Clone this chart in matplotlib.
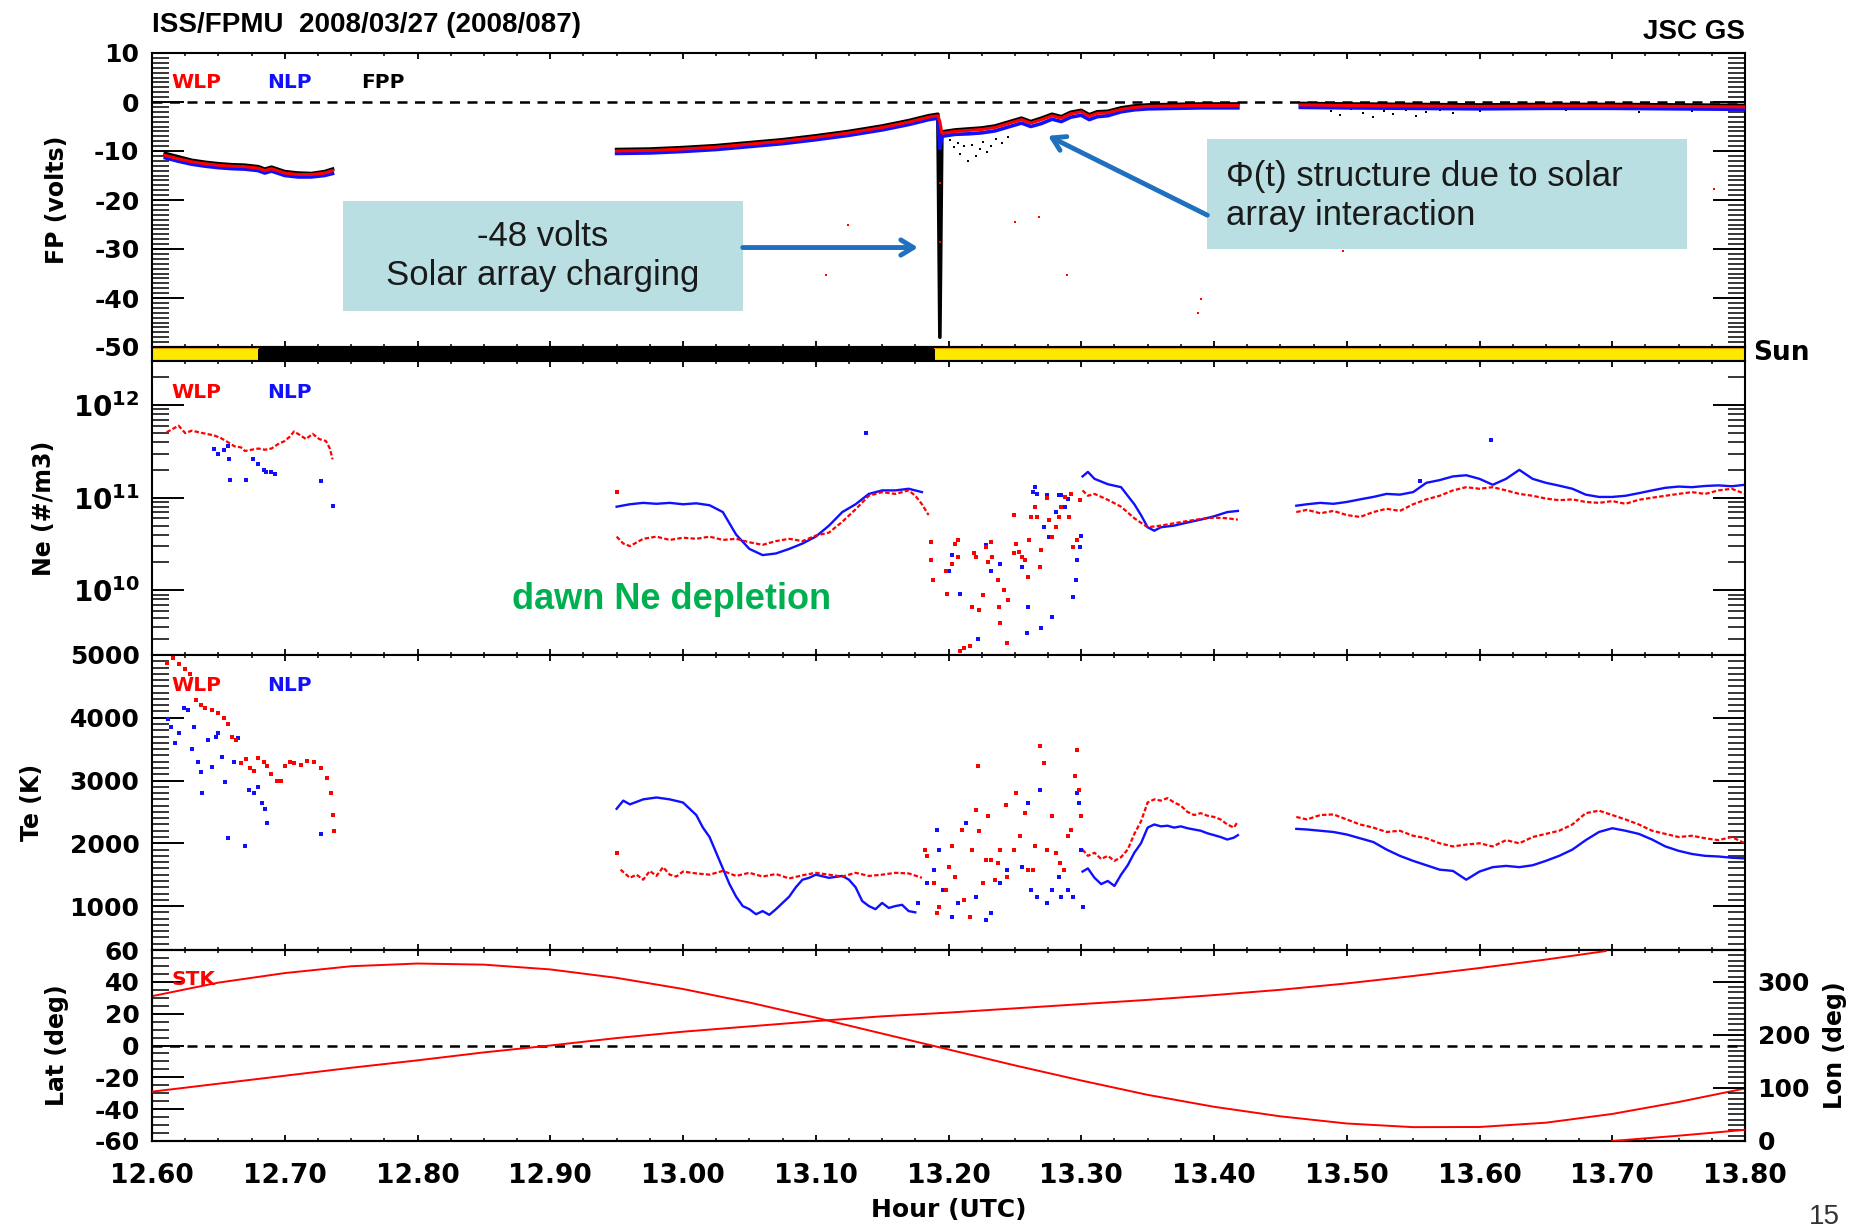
import numpy as np
import matplotlib.pyplot as plt
from matplotlib.patches import Rectangle
from matplotlib.ticker import MultipleLocator, LogLocator, FuncFormatter, NullFormatter

nan = np.nan

# ---------------------------------------------------------------- time axis
t_range = (12.60, 13.80)

# sunlight flag: day / eclipse / day
sun_edges = [12.60, 12.68, 13.19, 13.80]
sun_lit = [True, False, True]

# ---------------------------------------------------------------- FP (volts)
fp_t = [12.610, 12.620, 12.630, 12.640, 12.650, 12.660, 12.670, 12.680, 12.685, 12.690,
        12.700, 12.710, 12.720, 12.730, 12.736, nan,
        12.950, 12.975, 13.000, 13.025, 13.050, 13.075, 13.100, 13.125, 13.150, 13.170,
        13.185, 13.192, 13.1935,
        13.195, 13.205, 13.215, 13.225, 13.235, 13.245, 13.255, 13.262, 13.270, 13.278,
        13.285, 13.292, 13.300, 13.306, 13.312, 13.320, 13.330, 13.340, 13.350, 13.370,
        13.390, 13.418, nan,
        13.465, 13.500, 13.550, 13.600, 13.650, 13.700, 13.750, 13.800]
fp_wlp = [-10.9, -11.6, -12.2, -12.6, -12.9, -13.1, -13.2, -13.5, -14.0, -13.6,
          -14.5, -14.8, -14.8, -14.5, -14.0, nan,
          -10.0, -9.9, -9.6, -9.2, -8.6, -8.0, -7.2, -6.3, -5.2, -4.1,
          -3.1, -2.8, -4.0,
          -6.4, -6.0, -5.8, -5.6, -5.2, -4.4, -3.6, -4.3, -3.6, -2.8,
          -3.3, -2.4, -2.0, -2.9, -2.3, -2.2, -1.5, -1.1, -0.9, -0.8,
          -0.7, -0.7, nan,
          -0.6, -0.7, -0.8, -0.9, -0.8, -0.8, -0.9, -1.0]
fp_nlp = [-11.4, -12.1, -12.7, -13.1, -13.4, -13.6, -13.7, -14.0, -14.5, -14.1,
          -15.0, -15.3, -15.3, -15.0, -14.6, nan,
          -10.5, -10.4, -10.1, -9.7, -9.1, -8.5, -7.7, -6.8, -5.7, -4.6,
          -3.6, -3.3, -9.5,
          -7.0, -6.6, -6.5, -6.3, -5.9, -5.1, -4.3, -5.0, -4.4, -3.5,
          -4.0, -3.1, -2.7, -3.6, -3.0, -2.8, -2.0, -1.6, -1.4, -1.3,
          -1.2, -1.2, nan,
          -1.1, -1.2, -1.3, -1.4, -1.3, -1.3, -1.4, -1.5]
fp_fpp = [-10.5, -11.2, -11.9, -12.3, -12.6, -12.8, -12.9, -13.2, -13.7, -13.3,
          -14.2, -14.5, -14.6, -14.2, -13.7, nan,
          -9.7, -9.6, -9.3, -8.9, -8.3, -7.7, -6.9, -6.0, -4.9, -3.8,
          -2.8, -2.5, -48.0,
          -6.1, -5.7, -5.5, -5.3, -4.9, -4.1, -3.3, -4.0, -3.3, -2.5,
          -3.0, -2.1, -1.7, -2.6, -2.0, -1.9, -1.2, -0.8, -0.6, -0.5,
          -0.4, -0.4, nan,
          -0.3, -0.4, -0.5, -0.6, -0.5, -0.5, -0.6, -0.7]

# isolated FPP samples
fpp_dot_t = [13.201, 13.204, 13.207, 13.209, 13.212, 13.215, 13.218, 13.221, 13.224, 13.226,
             13.229, 13.232, 13.236, 13.240, 13.245, 13.488, 13.495, 13.503, 13.512, 13.520,
             13.528, 13.535, 13.545, 13.552, 13.560, 13.570, 13.580, 13.590, 13.600, 13.665,
             13.690, 13.720, 13.745, 13.760]
fpp_dot_v = [-7.8, -9.2, -8.4, -10.6, -9.0, -12.1, -8.8, -11.0, -9.6, -8.1,
             -10.2, -8.9, -7.6, -8.3, -7.1, -1.8, -2.6, -1.5, -2.2, -3.1,
             -1.9, -2.4, -1.6, -2.8, -2.0, -1.7, -2.3, -1.5, -1.9, -1.6,
             -1.4, -2.1, -1.5, -1.8]
# isolated WLP samples
wlp_dot_t = [13.108, 13.124, 13.1935, 13.1935, 13.250, 13.268, 13.289, 13.388, 13.390, 13.497, 13.777]
wlp_dot_v = [-35.4, -25.0, -16.5, -28.5, -24.4, -23.5, -35.4, -43.0, -40.2, -30.4, -17.7]

# ---------------------------------------------------------------- Ne (#/m3)
ne_wlp_t = [12.611, 12.620, 12.625, 12.630, 12.638, 12.647, 12.652, 12.657, 12.662, 12.667,
            12.670, 12.675, 12.680, 12.685, 12.690, 12.695, 12.700, 12.704, 12.707, 12.712,
            12.716, 12.721, 12.726, 12.731, 12.734, 12.736, nan,
            12.950, 12.955, 12.960, 12.970, 12.980, 12.990, 13.000, 13.010, 13.020, 13.030,
            13.040, 13.050, 13.060, 13.070, 13.080, 13.090, 13.100, 13.110, 13.120, 13.130,
            13.140, 13.150, 13.160, 13.170, 13.175, 13.180, 13.185, nan,
            13.301, 13.305, 13.310, 13.320, 13.330, 13.340, 13.350, 13.360, 13.370, 13.380,
            13.390, 13.400, 13.410, 13.418, nan,
            13.462, 13.470, 13.480, 13.490, 13.500, 13.510, 13.520, 13.530, 13.540, 13.550,
            13.560, 13.570, 13.580, 13.590, 13.600, 13.610, 13.620, 13.630, 13.640, 13.650,
            13.660, 13.670, 13.680, 13.690, 13.700, 13.710, 13.720, 13.730, 13.740, 13.750,
            13.760, 13.770, 13.780, 13.790, 13.800]
ne_wlp = [5.1e11, 6.0e11, 5.0e11, 5.3e11, 5.0e11, 4.7e11, 4.4e11, 4.0e11, 3.6e11, 3.5e11,
          3.2e11, 3.3e11, 3.4e11, 3.3e11, 3.4e11, 3.8e11, 4.1e11, 4.6e11, 5.2e11, 4.7e11,
          4.3e11, 4.9e11, 4.3e11, 4.1e11, 3.4e11, 2.6e11, nan,
          3.8e10, 3.2e10, 3.0e10, 3.6e10, 3.8e10, 3.5e10, 3.7e10, 3.6e10, 3.8e10, 3.5e10,
          3.6e10, 3.3e10, 3.1e10, 3.4e10, 3.6e10, 3.4e10, 3.9e10, 4.2e10, 5.5e10, 7.5e10,
          1.05e11, 1.15e11, 1.1e11, 1.2e11, 1.05e11, 8.5e10, 6.5e10, nan,
          1.2e11, 1.05e11, 1.1e11, 9.5e10, 8.0e10, 6.0e10, 4.8e10, 5.0e10, 5.3e10, 5.6e10,
          5.9e10, 6.1e10, 6.0e10, 5.8e10, nan,
          7.0e10, 7.4e10, 6.8e10, 7.2e10, 6.5e10, 6.2e10, 7.0e10, 7.6e10, 7.2e10, 8.5e10,
          9.6e10, 1.05e11, 1.2e11, 1.3e11, 1.25e11, 1.3e11, 1.2e11, 1.1e11, 1.05e11, 9.8e10,
          9.4e10, 9.6e10, 9.0e10, 8.8e10, 9.2e10, 8.6e10, 9.5e10, 1.0e11, 1.05e11, 1.1e11,
          1.15e11, 1.1e11, 1.2e11, 1.25e11, 1.1e11]

ne_nlp_t = [12.950, 12.960, 12.970, 12.980, 12.990, 13.000, 13.010, 13.020, 13.030, 13.040,
            13.050, 13.060, 13.070, 13.080, 13.090, 13.100, 13.110, 13.120, 13.130, 13.140,
            13.150, 13.160, 13.170, 13.180, nan,
            13.301, 13.305, 13.310, 13.320, 13.330, 13.335, 13.340, 13.345, 13.350, 13.355,
            13.360, 13.370, 13.380, 13.390, 13.400, 13.410, 13.418, nan,
            13.462, 13.470, 13.480, 13.490, 13.500, 13.510, 13.520, 13.530, 13.540, 13.550,
            13.560, 13.570, 13.580, 13.590, 13.600, 13.610, 13.620, 13.630, 13.640, 13.650,
            13.660, 13.670, 13.680, 13.690, 13.700, 13.710, 13.720, 13.730, 13.740, 13.750,
            13.760, 13.770, 13.780, 13.790, 13.800]
ne_nlp = [8.0e10, 8.5e10, 8.8e10, 8.6e10, 8.8e10, 8.5e10, 8.7e10, 8.3e10, 7.0e10, 4.0e10,
          2.8e10, 2.4e10, 2.5e10, 2.8e10, 3.2e10, 3.8e10, 5.0e10, 7.0e10, 8.5e10, 1.1e11,
          1.2e11, 1.2e11, 1.25e11, 1.15e11, nan,
          1.7e11, 1.9e11, 1.6e11, 1.4e11, 1.3e11, 1.05e11, 8.5e10, 6.5e10, 4.8e10, 4.4e10,
          4.8e10, 5.0e10, 5.4e10, 5.8e10, 6.3e10, 7.0e10, 7.2e10, nan,
          8.2e10, 8.5e10, 8.8e10, 8.6e10, 9.0e10, 9.6e10, 1.02e11, 1.1e11, 1.08e11, 1.15e11,
          1.45e11, 1.55e11, 1.7e11, 1.75e11, 1.6e11, 1.38e11, 1.6e11, 2.0e11, 1.6e11, 1.45e11,
          1.35e11, 1.25e11, 1.08e11, 1.02e11, 1.02e11, 1.05e11, 1.12e11, 1.2e11, 1.28e11, 1.32e11,
          1.3e11, 1.34e11, 1.36e11, 1.33e11, 1.38e11]

# scattered samples (start of pass and dawn depletion)
ne_wlp_dot_t = [12.950, 13.187, 13.187, 13.188, 13.198, 13.199, 13.203, 13.205, 13.207, 13.207,
                13.209, 13.212, 13.216, 13.218, 13.219, 13.221, 13.223, 13.226, 13.228, 13.230,
                13.232, 13.233, 13.237, 13.238, 13.239, 13.242, 13.244, 13.245, 13.249, 13.249,
                13.251, 13.253, 13.255, 13.258, 13.260, 13.261, 13.262, 13.265, 13.267, 13.269,
                13.270, 13.274, 13.276, 13.278, 13.281, 13.283, 13.285, 13.288, 13.291, 13.292,
                13.294, 13.297, 13.299]
ne_wlp_dot_v = [1.15e11, 3.3e10, 2.1e10, 1.3e10, 1.6e10, 9.2e9, 1.9e10, 3.2e10, 3.5e10, 2.3e10,
                2.2e9, 2.4e9, 2.5e9, 6.6e9, 2.5e10, 2.3e10, 6.1e9, 8.8e9, 2.9e10, 2.0e10,
                3.3e10, 2.3e10, 1.3e10, 6.6e9, 4.4e9, 1.0e10, 2.7e9, 7.8e9, 6.5e10, 2.5e10,
                3.2e10, 2.6e10, 2.3e10, 2.1e10, 1.4e10, 3.5e10, 6.2e10, 8.0e10, 6.2e10, 1.8e10,
                2.7e10, 1.0e11, 5.7e10, 3.8e10, 4.8e10, 6.2e10, 8.0e10, 1.02e11, 6.2e10, 1.11e11,
                2.9e10, 3.5e10, 9.4e10]
ne_nlp_dot_t = [12.647, 12.650, 12.654, 12.657, 12.658, 12.659, 12.671, 12.676, 12.680, 12.684,
                12.686, 12.690, 12.693, 12.727, 12.736, 13.138,
                13.200, 13.203, 13.209, 13.222, 13.228, 13.232, 13.239, 13.255, 13.259, 13.260,
                13.264, 13.265, 13.267, 13.270, 13.272, 13.274, 13.276, 13.278, 13.281, 13.283,
                13.285, 13.288, 13.290, 13.294, 13.296, 13.297, 13.299, 13.300, 13.555, 13.609]
ne_nlp_dot_v = [3.4e11, 3.0e11, 3.3e11, 3.6e11, 2.6e11, 1.55e11, 1.55e11, 2.6e11, 2.3e11, 2.0e11,
                1.9e11, 1.9e11, 1.8e11, 1.5e11, 8.1e10, 5.0e11,
                1.6e10, 2.4e10, 9.2e9, 3.0e9, 3.1e10, 1.6e10, 1.9e10, 1.8e10, 3.5e9, 6.6e9,
                1.16e11, 1.31e11, 1.11e11, 3.9e9, 4.8e10, 1.06e11, 3.8e10, 5.2e9, 7.0e10, 1.06e11,
                1.06e11, 8.0e10, 9.8e10, 8.5e9, 1.3e10, 2.1e10, 2.9e10, 3.9e10, 1.5e11, 4.2e11]

# ---------------------------------------------------------------- Te (K)
te_wlp_t = [12.953, 12.960, 12.965, 12.970, 12.975, 12.980, 12.985, 12.990, 12.995, 13.000,
            13.010, 13.020, 13.030, 13.040, 13.050, 13.060, 13.070, 13.080, 13.090, 13.100,
            13.110, 13.120, 13.130, 13.140, 13.150, 13.160, 13.170, 13.180, nan,
            13.301, 13.305, 13.310, 13.315, 13.320, 13.325, 13.330, 13.335, 13.340, 13.345,
            13.350, 13.355, 13.360, 13.365, 13.370, 13.375, 13.380, 13.385, 13.390, 13.395,
            13.400, 13.405, 13.410, 13.415, 13.418, nan,
            13.462, 13.470, 13.480, 13.490, 13.500, 13.510, 13.520, 13.530, 13.540, 13.550,
            13.560, 13.570, 13.580, 13.590, 13.600, 13.610, 13.620, 13.630, 13.640, 13.650,
            13.660, 13.670, 13.680, 13.690, 13.700, 13.710, 13.720, 13.730, 13.740, 13.750,
            13.760, 13.770, 13.780, 13.790, 13.800]
te_wlp = [1580, 1450, 1500, 1420, 1560, 1480, 1620, 1500, 1470, 1550,
          1520, 1500, 1560, 1480, 1530, 1470, 1510, 1440, 1490, 1530,
          1500, 1470, 1530, 1480, 1500, 1530, 1520, 1450, nan,
          1900, 1800, 1850, 1750, 1800, 1720, 1780, 1900, 2150, 2350,
          2650, 2700, 2680, 2720, 2650, 2600, 2500, 2450, 2480, 2440,
          2420, 2380, 2300, 2250, 2350, nan,
          2420, 2380, 2450, 2460, 2380, 2300, 2250, 2180, 2200, 2120,
          2080, 2000, 1950, 1980, 2000, 1950, 2050, 2000, 2100, 2150,
          2200, 2300, 2480, 2520, 2450, 2380, 2300, 2200, 2150, 2100,
          2120, 2080, 2050, 2100, 2000]

te_nlp_t = [12.950, 12.955, 12.960, 12.970, 12.980, 12.990, 13.000, 13.005, 13.010, 13.015,
            13.020, 13.025, 13.030, 13.035, 13.040, 13.045, 13.050, 13.055, 13.060, 13.065,
            13.070, 13.075, 13.080, 13.085, 13.090, 13.095, 13.100, 13.110, 13.120, 13.125,
            13.130, 13.135, 13.140, 13.145, 13.150, 13.155, 13.160, 13.165, 13.170, 13.175, nan,
            13.301, 13.305, 13.310, 13.315, 13.320, 13.325, 13.330, 13.335, 13.340, 13.345,
            13.350, 13.355, 13.360, 13.365, 13.370, 13.375, 13.380, 13.385, 13.390, 13.395,
            13.400, 13.405, 13.410, 13.415, 13.418, nan,
            13.462, 13.470, 13.480, 13.490, 13.500, 13.510, 13.520, 13.530, 13.540, 13.550,
            13.560, 13.570, 13.580, 13.590, 13.600, 13.610, 13.620, 13.630, 13.640, 13.650,
            13.660, 13.670, 13.680, 13.690, 13.700, 13.710, 13.720, 13.730, 13.740, 13.750,
            13.760, 13.770, 13.780, 13.790, 13.800]
te_nlp = [2550, 2680, 2620, 2700, 2730, 2700, 2650, 2550, 2450, 2250,
          2100, 1850, 1600, 1350, 1150, 1000, 950, 870, 920, 860,
          950, 1050, 1150, 1300, 1420, 1450, 1500, 1450, 1480, 1420,
          1300, 1080, 1000, 950, 1050, 970, 1000, 1020, 920, 900, nan,
          1550, 1600, 1450, 1350, 1400, 1320, 1500, 1650, 1850, 2000,
          2250, 2300, 2270, 2280, 2250, 2270, 2240, 2220, 2200, 2160,
          2130, 2100, 2060, 2090, 2130, nan,
          2230, 2220, 2200, 2180, 2140, 2080, 2020, 1900, 1800, 1720,
          1650, 1580, 1560, 1420, 1550, 1620, 1640, 1620, 1650, 1720,
          1800, 1900, 2050, 2180, 2240, 2200, 2150, 2060, 1950, 1880,
          1830, 1800, 1790, 1770, 1760]

te_wlp_dot_t = [12.611, 12.616, 12.620, 12.625, 12.629, 12.633, 12.637, 12.640, 12.645, 12.650,
                12.654, 12.657, 12.660, 12.663, 12.667, 12.671, 12.674, 12.677, 12.680, 12.684,
                12.687, 12.690, 12.694, 12.697, 12.700, 12.704, 12.707, 12.712, 12.717, 12.722,
                12.727, 12.732, 12.735, 12.736, 12.737, 12.950,
                13.182, 13.184, 13.189, 13.191, 13.193, 13.198, 13.200, 13.203, 13.205, 13.210,
                13.212, 13.216, 13.218, 13.221, 13.222, 13.223, 13.226, 13.228, 13.230, 13.232,
                13.235, 13.237, 13.239, 13.243, 13.244, 13.249, 13.251, 13.254, 13.258, 13.260,
                13.264, 13.265, 13.269, 13.272, 13.274, 13.278, 13.281, 13.284, 13.287, 13.290,
                13.292, 13.295, 13.297, 13.298, 13.300]
te_wlp_dot_v = [4880, 4950, 4850, 4770, 4700, 4290, 4200, 4160, 4120, 4080,
                4000, 3900, 3700, 3650, 3280, 3350, 3200, 3150, 3360, 3290,
                3230, 3100, 2990, 3000, 3230, 3300, 3280, 3250, 3310, 3300,
                3200, 3040, 2800, 2450, 2200, 1850,
                1897, 1790, 1364, 885, 992, 1258, 1630, 1950, 1471, 2216,
                1098, 832, 1897, 2535, 3227, 2190, 1364, 1737, 2429, 1737,
                1418, 1684, 1897, 2615, 1471, 1897, 2802, 2110, 2482, 1577,
                1577, 1950, 3547, 3281, 1897, 2429, 1843, 1684, 1577, 2110,
                2216, 3068, 3494, 2855, 2429]
te_nlp_dot_t = [12.612, 12.614, 12.617, 12.620, 12.624, 12.627, 12.630, 12.632, 12.635, 12.637,
                12.638, 12.642, 12.645, 12.648, 12.650, 12.653, 12.655, 12.657, 12.660, 12.662,
                12.665, 12.670, 12.673, 12.677, 12.680, 12.683, 12.685, 12.687, 12.690, 12.727,
                13.177, 13.184, 13.189, 13.191, 13.193, 13.196, 13.203, 13.207, 13.213, 13.221,
                13.228, 13.232, 13.239, 13.244, 13.255, 13.260, 13.262, 13.267, 13.269, 13.274,
                13.278, 13.283, 13.285, 13.290, 13.294, 13.297, 13.298, 13.300, 13.301]
te_nlp_dot_v = [3980, 3850, 3600, 3750, 4150, 4130, 3500, 3860, 3300, 3130,
                2800, 3650, 3220, 3700, 3750, 3380, 2980, 2080, 3690, 3300,
                3680, 1950, 2850, 2800, 2900, 2650, 2550, 2320, 3100, 2150,
                1045, 1364, 1577, 2216, 1897, 1258, 832, 1045, 2323, 1151,
                779, 885, 1364, 1577, 1630, 2642, 1258, 1151, 2855, 1045,
                1258, 1471, 1151, 1258, 1151, 2802, 2642, 1897, 992]

# ---------------------------------------------------------------- orbit
lat_t = [12.60, 12.65, 12.70, 12.75, 12.80, 12.85, 12.90, 12.95, 13.00, 13.05,
         13.10, 13.15, 13.20, 13.25, 13.30, 13.35, 13.40, 13.45, 13.50, 13.55,
         13.60, 13.65, 13.70, 13.75, 13.80]
lat_deg = [31.0, 39.5, 45.5, 49.8, 51.5, 50.8, 47.8, 42.5, 35.5, 27.0,
           17.5, 7.5, -2.5, -12.5, -22.0, -31.0, -38.5, -44.5, -49.0, -51.3,
           -51.2, -48.5, -43.0, -35.5, -27.0]
lon_t = [12.60, 12.65, 12.70, 12.75, 12.80, 12.85, 12.90, 12.95, 13.00, 13.05,
         13.10, 13.15, 13.20, 13.25, 13.30, 13.35, 13.40, 13.45, 13.50, 13.55,
         13.60, 13.65, 13.695, nan, 13.70, 13.75, 13.80]
lon_deg = [93, 108, 123, 138, 152, 167, 180, 194, 206, 216,
           226, 235, 242, 250, 258, 266, 275, 285, 297, 311,
           326, 342, 358, nan, 0, 10, 21]

# ---------------------------------------------------------------- figure
plt.rcParams['font.family'] = 'DejaVu Sans'
plt.rcParams['font.weight'] = 'bold'
plt.rcParams['axes.labelweight'] = 'bold'
plt.rcParams['axes.unicode_minus'] = False
plt.rcParams['axes.linewidth'] = 1.5

W, H = 1856, 1228
fig = plt.figure(figsize=(W / 100, H / 100), dpi=100)


def rect(top, bottom, left=152, right=1745):
    return [left / W, 1 - bottom / H, (right - left) / W, (bottom - top) / H]


ax_fp = fig.add_axes(rect(53, 347))
ax_sun = fig.add_axes(rect(347, 361))
ax_ne = fig.add_axes(rect(361, 655))
ax_te = fig.add_axes(rect(655, 950))
ax_lat = fig.add_axes(rect(950, 1141))
ax_lon = ax_lat.twinx()

RED, BLUE = '#FF0000', '#1010FF'


def style(ax, right=True):
    ax.set_xlim(*t_range)
    ax.xaxis.set_major_locator(MultipleLocator(0.1))
    ax.xaxis.set_minor_locator(MultipleLocator(0.025))
    ax.tick_params(axis='x', which='major', direction='in', top=True, bottom=True,
                   length=4.5, width=1.3, labelbottom=False)
    ax.tick_params(axis='x', which='minor', direction='in', top=True, bottom=True,
                   length=2.5, width=1.1)
    ax.tick_params(axis='y', which='major', direction='in', left=True, right=right,
                   length=23, width=1.4, labelsize=18, pad=9)
    ax.tick_params(axis='y', which='minor', direction='in', left=True, right=right,
                   length=12, width=1.1)


for ax in (ax_fp, ax_ne, ax_te, ax_lat):
    style(ax)
style(ax_lat, right=False)

# --- FP panel
ax_fp.set_ylim(-50, 10)
ax_fp.yaxis.set_major_locator(MultipleLocator(10))
ax_fp.yaxis.set_minor_locator(MultipleLocator(1))
ax_fp.axhline(0, color='k', lw=1.8, ls=(0, (4, 3)), zorder=1)
ax_fp.plot(fp_t, fp_fpp, color='k', lw=2.6, zorder=2)
ax_fp.plot(fp_t, fp_nlp, color=BLUE, lw=2.6, zorder=3)
ax_fp.plot(fp_t, fp_wlp, color=RED, lw=2.2, zorder=4)
ax_fp.plot(fpp_dot_t, fpp_dot_v, 's', color='k', ms=1.8, mew=0)
ax_fp.plot(wlp_dot_t, wlp_dot_v, 's', color=RED, ms=2.0, mew=0)
ax_fp.set_ylabel('FP (volts)', fontsize=17)
ax_fp.yaxis.set_label_coords(-0.052, 0.5)

# annotation boxes
ax_fp.add_patch(Rectangle((0.120, 0.123), 0.251, 0.375, transform=ax_fp.transAxes,
                          facecolor='#B9DFE2', edgecolor='none', zorder=5))
ax_fp.text(0.2455, 0.31, '-48 volts\nSolar array charging', transform=ax_fp.transAxes,
           ha='center', va='center', fontsize=25, fontweight='normal', linespacing=1.25,
           family='Liberation Sans', color='#1a1a1a', zorder=6)
ax_fp.add_patch(Rectangle((0.6623, 0.3345), 0.3013, 0.372, transform=ax_fp.transAxes,
                          facecolor='#B9DFE2', edgecolor='none', zorder=5))
ax_fp.text(0.674, 0.514, 'Φ(t) structure due to solar\narray interaction', transform=ax_fp.transAxes,
           ha='left', va='center', fontsize=25, fontweight='normal', linespacing=1.25,
           family='Liberation Sans', color='#1a1a1a', zorder=6)
arrow = dict(arrowstyle='->,head_length=0.9,head_width=0.55', lw=3.5, color='#1F70BF',
             shrinkA=0, shrinkB=0)
ax_fp.annotate('', xy=(13.177, -29.7), xytext=(13.045, -29.7), arrowprops=arrow, zorder=7)
ax_fp.annotate('', xy=(13.275, -6.9), xytext=(13.395, -23.1), arrowprops=arrow, zorder=7)

# --- sunlight bar
ax_sun.set_xlim(*t_range)
ax_sun.set_ylim(0, 1)
for t0, t1, lit in zip(sun_edges[:-1], sun_edges[1:], sun_lit):
    ax_sun.fill_between([t0, t1], 0, 1, color='#FFE800' if lit else 'k', lw=0)
    if lit:
        ax_sun.plot([t0, t1], [0.93, 0.93], color='#F0A000', lw=1.5)
ax_sun.set_xticks([])
ax_sun.set_yticks([])

# --- Ne panel
ax_ne.set_yscale('log')
ax_ne.set_ylim(2e9, 3e12)
ax_ne.yaxis.set_major_locator(LogLocator(base=10, numticks=10))
ax_ne.yaxis.set_minor_locator(LogLocator(base=10, subs=np.arange(2, 10), numticks=10))
ax_ne.yaxis.set_minor_formatter(NullFormatter())
ax_ne.yaxis.set_major_formatter(FuncFormatter(lambda v, p: r'$\mathbf{10^{%d}}$' % round(np.log10(v))))
ax_ne.tick_params(axis='y', which='major', labelsize=20)
ax_ne.plot(ne_nlp_t, ne_nlp, color=BLUE, lw=1.7)
ax_ne.plot(ne_wlp_t, ne_wlp, color=RED, lw=1.6, ls=(0, (2, 1)))
ax_ne.plot(ne_nlp_dot_t, ne_nlp_dot_v, 's', color=BLUE, ms=2.2, mew=0)
ax_ne.plot(ne_wlp_dot_t, ne_wlp_dot_v, 's', color=RED, ms=2.2, mew=0)
ax_ne.text(0.326, 0.19, 'dawn Ne depletion', transform=ax_ne.transAxes, ha='center', va='center',
           fontsize=26, fontweight='bold', family='Liberation Sans', color='#00B050')
ax_ne.set_ylabel('Ne (#/m3)', fontsize=17)
ax_ne.yaxis.set_label_coords(-0.060, 0.5)

# --- Te panel
ax_te.set_ylim(300, 5000)
ax_te.yaxis.set_major_locator(MultipleLocator(1000))
ax_te.yaxis.set_minor_locator(MultipleLocator(100))
ax_te.plot(te_nlp_t, te_nlp, color=BLUE, lw=1.7)
ax_te.plot(te_wlp_t, te_wlp, color=RED, lw=1.6, ls=(0, (2, 1)))
ax_te.plot(te_nlp_dot_t, te_nlp_dot_v, 's', color=BLUE, ms=2.2, mew=0)
ax_te.plot(te_wlp_dot_t, te_wlp_dot_v, 's', color=RED, ms=2.2, mew=0)
ax_te.set_ylabel('Te (K)', fontsize=17)
ax_te.yaxis.set_label_coords(-0.068, 0.5)

# --- Lat / Lon panel
ax_lat.set_ylim(-60, 60)
ax_lat.yaxis.set_major_locator(MultipleLocator(20))
ax_lat.yaxis.set_minor_locator(MultipleLocator(5))
ax_lat.axhline(0, color='k', lw=1.8, ls=(0, (4, 3)), zorder=1)
ax_lat.plot(lat_t, lat_deg, color=RED, lw=1.4, zorder=3)
ax_lat.set_ylabel('Lat (deg)', fontsize=17)
ax_lat.yaxis.set_label_coords(-0.052, 0.5)
ax_lat.tick_params(axis='x', which='major', labelbottom=True, labelsize=19, pad=16)
ax_lat.xaxis.set_major_formatter(FuncFormatter(lambda v, p: '%.2f' % v))
ax_lat.set_xlabel('Hour (UTC)', fontsize=18)
ax_lat.xaxis.set_label_coords(0.5, -0.30)

ax_lon.set_ylim(0, 360)
ax_lon.yaxis.set_major_locator(MultipleLocator(100))
ax_lon.yaxis.set_minor_locator(MultipleLocator(10))
ax_lon.tick_params(axis='y', which='major', direction='in', length=23, width=1.4, labelsize=18, pad=9)
ax_lon.tick_params(axis='y', which='minor', direction='in', length=12, width=1.1)
ax_lon.plot(lon_t, lon_deg, color=RED, lw=1.4, zorder=3)
ax_lon.set_ylabel('Lon (deg)', fontsize=17)
ax_lon.yaxis.set_label_coords(1.049, 0.5)

# --- probe legends
for ax, y, names in ((ax_fp, 0.898, [('WLP', RED), ('NLP', BLUE), ('FPP', 'k')]),
                     (ax_ne, 0.894, [('WLP', RED), ('NLP', BLUE)]),
                     (ax_te, 0.898, [('WLP', RED), ('NLP', BLUE)]),
                     (ax_lat, 0.843, [('STK', RED)])):
    for x, (name, c) in zip((0.0123, 0.0725, 0.131), names):
        ax.text(x, y, name, color=c, transform=ax.transAxes, fontsize=14.5,
                ha='left', va='center', zorder=8)

# --- header / footer text
fig.text(152 / W, 1 - 25 / H, 'ISS/FPMU  2008/03/27 (2008/087)', ha='left', va='center',
         fontsize=20, fontweight='bold', family='Liberation Sans')
fig.text(1745 / W, 1 - 32 / H, 'JSC GS', ha='right', va='center',
         fontsize=20, fontweight='bold', family='Liberation Sans')
fig.text(1753 / W, 1 - 353 / H, 'Sun', ha='left', va='center', fontsize=19)
fig.text(1824 / W, 1 - 1204 / H, '15', ha='center', va='top', fontsize=20,
         fontweight='normal', family='Liberation Sans', color='#333333')

fig.savefig('out.png', dpi=100)
